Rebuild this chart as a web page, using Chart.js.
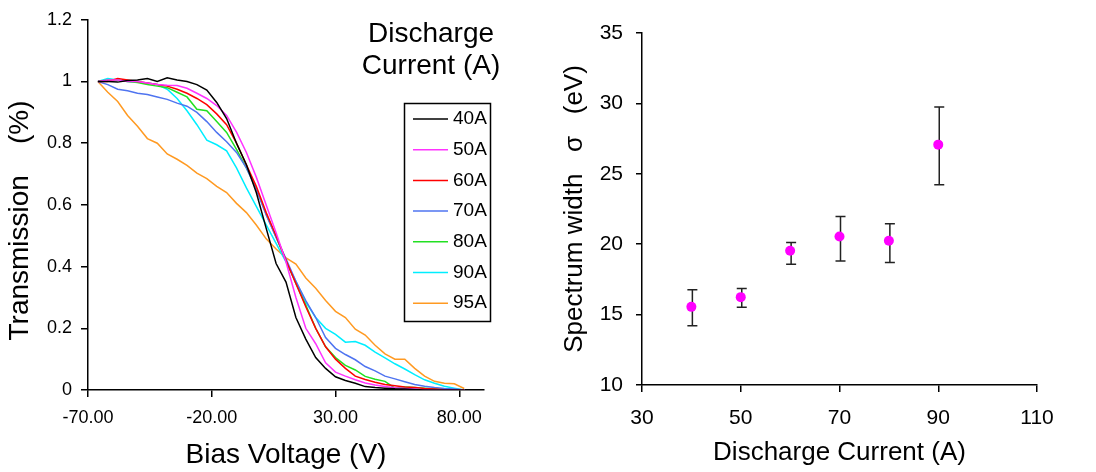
<!DOCTYPE html>
<html>
<head>
<meta charset="utf-8">
<script src="https://cdn.jsdelivr.net/npm/chart.js@4"></script>
<style>
  html, body { margin: 0; padding: 0; background: #fff; }
  #wrap { position: relative; width: 1096px; height: 472px; }
  .box { position: absolute; top: 0; height: 472px; }
</style>
</head>
<body>
<div id="wrap">
  <div class="box" style="left:0;width:530px"><canvas id="left"></canvas></div>
  <div class="box" style="left:540px;width:556px"><canvas id="right"></canvas></div>
</div>
<script>
/*******************************************************************************
 * DATA
 */

// left panel: transmission vs bias voltage
const volts = [-66, -62, -58, -54, -50, -46, -42, -38, -34, -30, -26, -22, -18, -14, -10, -6, -2, 2, 6, 10,
  14, 18, 22, 26, 30, 34, 38, 42, 46, 50, 54, 58, 62, 66, 70, 74, 78, 82];

const t40 = [1.0, 1.0, 0.998, 1.003, 1.005, 1.01, 1.0, 1.012, 1.005, 1.0, 0.99, 0.972, 0.932, 0.88, 0.80, 0.73, 0.64, 0.524, 0.41, 0.35,
  0.235, 0.165, 0.105, 0.07, 0.043, 0.031, 0.022, 0.011, 0.008, 0.006, 0.004, 0.003, 0.002, 0, 0, 0, 0, 0];
const t50 = [1.0, 1.005, 1.005, 1.0, 1.0, 0.995, 0.99, 0.988, 0.987, 0.978, 0.962, 0.945, 0.922, 0.89, 0.836, 0.77, 0.69, 0.6, 0.51, 0.415,
  0.3, 0.2, 0.15, 0.088, 0.058, 0.045, 0.033, 0.023, 0.016, 0.011, 0.007, 0.005, 0.003, 0, 0, 0, 0, 0];
const t60 = [1.0, 1.0, 1.01, 1.005, 1.0, 0.995, 0.99, 0.985, 0.975, 0.962, 0.945, 0.925, 0.895, 0.86, 0.80, 0.73, 0.66, 0.575, 0.5, 0.42,
  0.345, 0.27, 0.2, 0.14, 0.1, 0.07, 0.045, 0.034, 0.025, 0.018, 0.014, 0.01, 0.008, 0.005, 0.003, 0.001, 0, 0];
const t70 = [1.0, 0.99, 0.975, 0.97, 0.962, 0.958, 0.95, 0.942, 0.93, 0.92, 0.9, 0.87, 0.835, 0.805, 0.77, 0.72, 0.65, 0.567, 0.495, 0.425,
  0.352, 0.29, 0.235, 0.17, 0.135, 0.115, 0.098, 0.076, 0.062, 0.045, 0.036, 0.027, 0.018, 0.012, 0.008, 0.005, 0.003, 0];
const t80 = [1.0, 1.005, 1.005, 1.0, 0.997, 0.99, 0.985, 0.98, 0.965, 0.95, 0.91, 0.905, 0.87, 0.835, 0.78, 0.72, 0.655, 0.57, 0.495, 0.42,
  0.345, 0.275, 0.2, 0.14, 0.105, 0.08, 0.065, 0.044, 0.035, 0.028, 0.006, 0.01, 0.008, 0.006, 0.004, 0.002, 0, 0];
const t90 = [1.0, 1.01, 1.005, 1.0, 0.998, 0.995, 0.99, 0.975, 0.945, 0.905, 0.86, 0.81, 0.795, 0.775, 0.72, 0.655, 0.595, 0.535, 0.475, 0.415,
  0.352, 0.285, 0.235, 0.2, 0.18, 0.155, 0.157, 0.145, 0.123, 0.104, 0.085, 0.068, 0.05, 0.033, 0.022, 0.012, 0.006, 0];
const t95 = [1.0, 0.965, 0.935, 0.89, 0.855, 0.815, 0.80, 0.765, 0.748, 0.728, 0.703, 0.685, 0.66, 0.64, 0.605, 0.575, 0.535, 0.49, 0.457, 0.428,
  0.408, 0.363, 0.33, 0.29, 0.255, 0.235, 0.197, 0.178, 0.145, 0.117, 0.1, 0.1, 0.07, 0.045, 0.028, 0.022, 0.02, 0.005];

const seriesLabels = ['40A', '50A', '60A', '70A', '80A', '90A', '95A'];
const seriesValues = [t40, t50, t60, t70, t80, t90, t95];
const seriesColors = ['#000000', '#FF33FF', '#FF0000', '#4F74F0', '#22E022', '#00EEFF', '#FF9A22'];

const voltTicks = [-70, -20, 30, 80];
const transTicks = [0, 0.2, 0.4, 0.6, 0.8, 1, 1.2];
const legendTitle = ['Discharge', 'Current (A)'];

// right panel: spectrum width vs discharge current
const currents = [40, 50, 60, 70, 80, 90];
const sigma = [15.55, 16.24, 19.53, 20.55, 20.24, 27.07];
const sigmaHigh = [16.76, 16.85, 20.12, 21.97, 21.45, 29.75];
const sigmaLow = [14.2, 15.52, 18.58, 18.8, 18.7, 24.22];

/*******************************************************************************
 * CHARTS
 */

const FONT = '"Liberation Sans", Arial, sans-serif';
Chart.defaults.font.family = FONT;
Chart.defaults.color = '#000';
Chart.defaults.animation = false;

const axisGrid = (len) => ({
  display: true,
  drawOnChartArea: false,
  drawTicks: true,
  tickLength: len,
  color: '#000',
  lineWidth: 1.5,
});
const axisBorder = { display: true, color: '#000', width: 1.5 };

// legend box with its title, drawn inside the left panel
const legendBox = {
  id: 'legendBox',
  afterDraw(chart) {
    const ctx = chart.ctx;
    ctx.save();
    ctx.fillStyle = '#000';
    ctx.textAlign = 'center';
    ctx.textBaseline = 'middle';
    ctx.font = '28px ' + FONT;
    legendTitle.forEach((t, i) => ctx.fillText(t, 431, 34 + i * 32));

    ctx.fillStyle = '#fff';
    ctx.fillRect(404, 103, 86, 218);
    ctx.strokeStyle = '#000';
    ctx.lineWidth = 1.5;
    ctx.strokeRect(404.5, 103.5, 86, 218);

    ctx.font = '19px ' + FONT;
    ctx.textAlign = 'left';
    chart.data.datasets.forEach((ds, i) => {
      const y = 119 + i * 30.7;
      ctx.strokeStyle = ds.borderColor;
      ctx.beginPath();
      ctx.moveTo(413, y);
      ctx.lineTo(448, y);
      ctx.stroke();
      ctx.fillStyle = '#000';
      ctx.fillText(ds.label, 453, y);
    });
    ctx.restore();
  }
};

new Chart(document.getElementById('left'), {
  type: 'line',
  data: {
    datasets: seriesValues.map((vals, i) => ({
      label: seriesLabels[i],
      data: volts.map((v, j) => ({ x: v, y: vals[j] })),
      borderColor: seriesColors[i],
      borderWidth: 1.5,
      pointRadius: 0,
      tension: 0,
      fill: false,
    })),
  },
  options: {
    responsive: true,
    maintainAspectRatio: false,
    layout: { padding: { left: 0, top: 17, right: 46, bottom: 0 } },
    plugins: { legend: { display: false }, tooltip: { enabled: false } },
    scales: {
      x: {
        type: 'linear',
        min: -70,
        max: 90,
        afterBuildTicks: (s) => { s.ticks = voltTicks.map(v => ({ value: v })); },
        afterFit: (s) => { s.height = 82; },
        ticks: { font: { size: 18 }, padding: 10, maxRotation: 0, autoSkip: false,
          callback: (v) => Number(v).toFixed(2) },
        grid: axisGrid(7),
        border: axisBorder,
        title: { display: true, text: 'Bias Voltage (V)', font: { size: 28 }, padding: { top: 0, bottom: 0 } },
      },
      y: {
        min: 0,
        max: 1.2,
        afterBuildTicks: (s) => { s.ticks = transTicks.map(v => ({ value: v })); },
        afterFit: (s) => { s.width = 88; },
        ticks: { font: { size: 18 }, padding: 9, callback: (v) => String(Math.round(v * 10) / 10) },
        grid: axisGrid(7),
        border: axisBorder,
        // trailing spaces push the centred title a little down, as in the original
        title: { display: true, text: 'Transmission    (%)    ', font: { size: 28 }, padding: { top: 3, bottom: 0 } },
      },
    },
  },
  plugins: [legendBox],
});

// vertical error bars with caps, under the points
const errorBars = {
  id: 'errorBars',
  beforeDatasetsDraw(chart) {
    const { ctx, scales: { x, y } } = chart;
    ctx.save();
    ctx.strokeStyle = '#222';
    ctx.lineWidth = 1.5;
    currents.forEach((c, i) => {
      const px = x.getPixelForValue(c) + 1;
      const top = y.getPixelForValue(sigmaHigh[i]);
      const bot = y.getPixelForValue(sigmaLow[i]);
      ctx.beginPath();
      ctx.moveTo(px, top); ctx.lineTo(px, bot);
      ctx.moveTo(px - 5, top); ctx.lineTo(px + 5, top);
      ctx.moveTo(px - 5, bot); ctx.lineTo(px + 5, bot);
      ctx.stroke();
    });
    ctx.restore();
  }
};

new Chart(document.getElementById('right'), {
  type: 'scatter',
  data: {
    datasets: [{
      data: currents.map((c, i) => ({ x: c, y: sigma[i] })),
      backgroundColor: '#FF00FF',
      borderWidth: 0,
      pointRadius: 5,
      showLine: false,
    }],
  },
  options: {
    responsive: true,
    maintainAspectRatio: false,
    layout: { padding: { left: 0, top: 33, right: 59, bottom: 4 } },
    plugins: { legend: { display: false }, tooltip: { enabled: false } },
    scales: {
      x: {
        type: 'linear',
        min: 30,
        max: 110,
        afterFit: (s) => { s.height = 83; },
        ticks: { stepSize: 20, font: { size: 21 }, padding: 14, maxRotation: 0 },
        grid: axisGrid(7),
        border: axisBorder,
        title: { display: true, text: 'Discharge Current (A)', font: { size: 26 }, padding: { top: 0, bottom: 0 } },
      },
      y: {
        min: 10,
        max: 35,
        afterFit: (s) => { s.width = 102; },
        ticks: { stepSize: 5, font: { size: 21 }, padding: 13 },
        grid: axisGrid(6),
        border: axisBorder,
        title: { display: true, text: 'Spectrum width   σ   (eV)', font: { size: 26 }, padding: { top: 19, bottom: 0 } },
      },
    },
  },
  plugins: [errorBars],
});
</script>
</body>
</html>
